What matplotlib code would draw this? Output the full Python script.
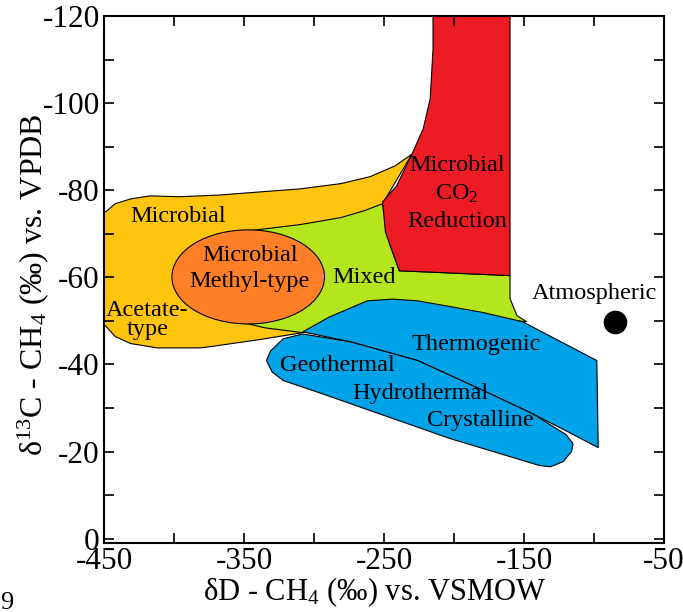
import matplotlib
matplotlib.use("Agg")
import matplotlib.pyplot as plt
from matplotlib.patches import Polygon, Ellipse
from matplotlib.ticker import MultipleLocator

plt.rcParams['font.family'] = ['Liberation Serif', 'DejaVu Serif']
plt.rcParams['mathtext.fontset'] = 'custom'
plt.rcParams['mathtext.rm'] = 'Liberation Serif'
plt.rcParams['mathtext.it'] = 'Liberation Serif:italic'
plt.rcParams['mathtext.default'] = 'regular'
plt.rcParams['axes.unicode_minus'] = False

# outlines of the fields, (dD, d13C)
acetate_microbial = [(-458, -76), (-449, -75.0), (-442, -76.9), (-431, -78.0), (-417, -78.7),
                     (-396, -78.5), (-367, -78.9), (-339, -79.6), (-310, -80.3), (-281, -81.5),
                     (-260, -83.1), (-242, -85.6), (-230, -88.3), (-251, -76.9), (-296, -55.1),
                     (-308, -47.3), (-339, -45.7), (-365, -44.5), (-381, -43.8), (-412, -43.8),
                     (-431, -44.8), (-442, -46.4), (-449, -48.9), (-458, -50)]
mixed = [(-346, -70.7), (-310, -72.1), (-281, -73.7), (-264, -75.3), (-251, -76.9),
         (-249, -72.3), (-246, -67.7), (-239, -61.5), (-160, -60.4), (-160, -55.1),
         (-155, -51.2), (-148, -49.8), (-189, -51.0), (-239, -52.8), (-281, -50.5),
         (-308, -47.3), (-335, -48.4), (-356, -50.0), (-342, -59.7)]
co2_reduction = [(-215, -126), (-215, -112.4), (-217, -101.0), (-222, -94.1), (-230, -88.3),
                 (-241, -81.0), (-251, -77.3), (-249, -70.4), (-244, -65.9), (-239, -61.5),
                 (-160, -60.4), (-160, -126)]
thermogenic = [(-308, -47.5), (-289, -50.9), (-262, -54.6), (-244, -55.0), (-226, -54.6),
               (-203, -53.3), (-179, -51.9), (-151, -49.8), (-98, -40.9), (-97, -20.9),
               (-119, -24.6), (-144, -28.7), (-179, -34.0), (-226, -40.9), (-274, -45.2)]
geothermal = [(-308, -47.0), (-322, -45.9), (-331, -43.1), (-334, -40.9), (-330, -38.3),
              (-322, -36.3), (-298, -33.7), (-203, -23.0), (-139, -16.8), (-131, -16.5),
              (-122, -17.7), (-116, -20.0), (-115, -21.8), (-120, -23.9), (-144, -28.7),
              (-179, -34.0), (-226, -40.9), (-274, -45.2)]
methyl_center = (-347, -60.1)
methyl_width = 109
methyl_height = 21.6
atmospheric_x = [-85]
atmospheric_y = [-49.8]

field_labels = ['Microbial', 'Microbial\nMethyl-type', 'Acetate-\ntype', 'Mixed',
                'Microbial\nCO$_2$\nReduction', 'Atmospheric', 'Thermogenic',
                'Geothermal', 'Hydrothermal', 'Crystalline']
label_x = [-397, -346, -419, -264, -198, -100, -184, -283, -224, -181]
label_y = [-73.9, -62.0, -50.2, -59.9, -79.2, -56.4, -44.6, -39.7, -33.3, -27.1]

x_major = [-450, -350, -250, -150, -50]
y_major = [-120, -100, -80, -60, -40, -20, 0]

fig = plt.figure(figsize=(6.83, 6.12), dpi=100)
ax = fig.add_axes([0.1523, 0.1127, 0.8199, 0.8612])

ax.add_patch(Polygon(acetate_microbial, closed=True, facecolor='#FFC50E', edgecolor='black', lw=0.8))
ax.add_patch(Polygon(mixed, closed=True, facecolor='#B5E61D', edgecolor='black', lw=0.8))
ax.add_patch(Ellipse(methyl_center, methyl_width, methyl_height, facecolor='#FF7F27', edgecolor='black', lw=0.8))
ax.add_patch(Polygon(co2_reduction, closed=True, facecolor='#ED1C24', edgecolor='black', lw=0.8))
ax.add_patch(Polygon(thermogenic, closed=True, facecolor='#00A2E8', edgecolor='black', lw=0.8))
ax.add_patch(Polygon(geothermal, closed=True, facecolor='#00A2E8', edgecolor='black', lw=0.8))

ax.plot(atmospheric_x, atmospheric_y, 'o', color='black', markersize=16)

# line spacing differs from one label block to the next in the original
spacing = {'Microbial\nMethyl-type': 1.3, 'Acetate-\ntype': 0.9, 'Microbial\nCO$_2$\nReduction': 1.4}
for s, x, y in zip(field_labels, label_x, label_y):
    ax.text(x, y, s, ha='center', va='center', fontsize=17.5, linespacing=spacing.get(s, 1.2))

ax.set_xlim(-450, -50)
ax.set_ylim(1, -120)
ax.set_xticks(x_major)
ax.set_yticks(y_major)
ax.xaxis.set_minor_locator(MultipleLocator(50))
ax.yaxis.set_minor_locator(MultipleLocator(10))
ax.tick_params(which='both', direction='in', top=True, right=True, length=7, width=1.2)
ax.tick_params(labelsize=22.5, pad=3)
for sp in ax.spines.values():
    sp.set_linewidth(1.5)

ax.set_xlabel('δD - CH$_4$ (‰) vs. VSMOW', fontsize=22)
ax.set_ylabel('δ$^{13}$C - CH$_4$ (‰) vs. VPDB', fontsize=23)
ax.xaxis.set_label_coords(0.484, -0.062)
ax.yaxis.set_label_coords(-0.095, 0.49)

fig.text(0.0, 0.005, '9', fontsize=19)

fig.savefig('out.png', dpi=100)
